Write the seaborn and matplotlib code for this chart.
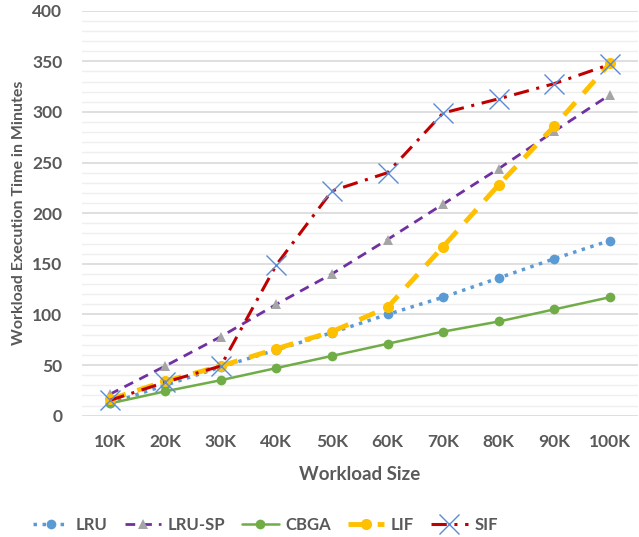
import pandas as pd
import seaborn as sns
import matplotlib.pyplot as plt
from matplotlib.ticker import MultipleLocator

sizes = ['10K', '20K', '30K', '40K', '50K', '60K', '70K', '80K', '90K', '100K']

lru = [12, 30, 48, 65, 82, 100, 117, 136, 155, 173]
lru_sp = [21, 49, 78, 110, 140, 174, 209, 244, 281, 317]
cbga = [12, 24, 35, 47, 59, 71, 83, 93, 105, 117]
lif = [16, 34, 49, 66, 83, 107, 167, 228, 286, 348]
sif = [15, 33, 49, 149, 222, 240, 299, 313, 328, 347]

sns.set_style('white')
plt.rcParams['font.family'] = ['Lato', 'DejaVu Sans']
grey = '#595959'

fig = plt.figure(figsize=(6.39, 5.37), dpi=100)
ax = fig.add_axes([0.128, 0.226, 0.870, 0.754])

series = [
    ('LRU', lru, dict(color='#5B9BD5', linestyle=(0, (1, 1.6)), linewidth=2.5,
                      marker='o', markersize=7, markeredgewidth=0)),
    ('LRU-SP', lru_sp, dict(color='#7030A0', linestyle=(0, (3.5, 2.5)), linewidth=2,
                            marker='^', markersize=7, markerfacecolor='#A5A5A5',
                            markeredgewidth=0)),
    ('CBGA', cbga, dict(color='#70AD47', linestyle='-', linewidth=1.8,
                        marker='o', markersize=7, markeredgewidth=0)),
    ('LIF', lif, dict(color='#FFC000', linestyle=(0, (3.5, 2.5)), linewidth=3.5,
                      marker='o', markersize=8, markeredgewidth=0)),
    ('SIF', sif, dict(color='#C00000', linestyle=(0, (5, 2.5, 1, 2.5)), linewidth=2.2,
                      marker='x', markersize=15, markeredgecolor='#5B8BD5',
                      markeredgewidth=1.0)),
]

for name, vals, style in series:
    df = pd.DataFrame({'size': sizes, 'time': vals})
    sns.lineplot(data=df, x='size', y='time', ax=ax, label=name, sort=False, **style)

ax.set_xlim(-0.5, 9.5)
ax.set_ylim(0, 400)
ax.yaxis.set_major_locator(MultipleLocator(50))
ax.yaxis.set_minor_locator(MultipleLocator(10))
ax.grid(True, which='major', axis='y', color='#D9D9D9', linewidth=1.2)
ax.grid(True, which='minor', axis='y', color='#EFEFEF', linewidth=1.0)
ax.grid(False, axis='x')
ax.set_axisbelow(True)
for s in ax.spines.values():
    s.set_visible(False)
ax.tick_params(axis='both', which='both', length=0, labelsize=12.5, labelcolor=grey)
ax.tick_params(axis='x', pad=13)
ax.tick_params(axis='y', pad=14)
for lbl in ax.get_xticklabels() + ax.get_yticklabels():
    lbl.set_fontweight('bold')

ax.set_xlabel('Workload Size', fontsize=13.5, fontweight='bold', color=grey, labelpad=12)
ax.set_ylabel('Workload Execution Time in Minutes', fontsize=11.5, fontweight='bold',
              color=grey)
ax.yaxis.set_label_coords(-0.1, 0.5)

leg = ax.legend(loc='center', bbox_to_anchor=(0.415, 0.022), bbox_transform=fig.transFigure,
                ncol=5, frameon=False, handlelength=2.2, columnspacing=1.0,
                handletextpad=0.4, prop={'weight': 'bold', 'size': 12})
for t in leg.get_texts():
    t.set_color(grey)

fig.savefig('out.png', dpi=100)
